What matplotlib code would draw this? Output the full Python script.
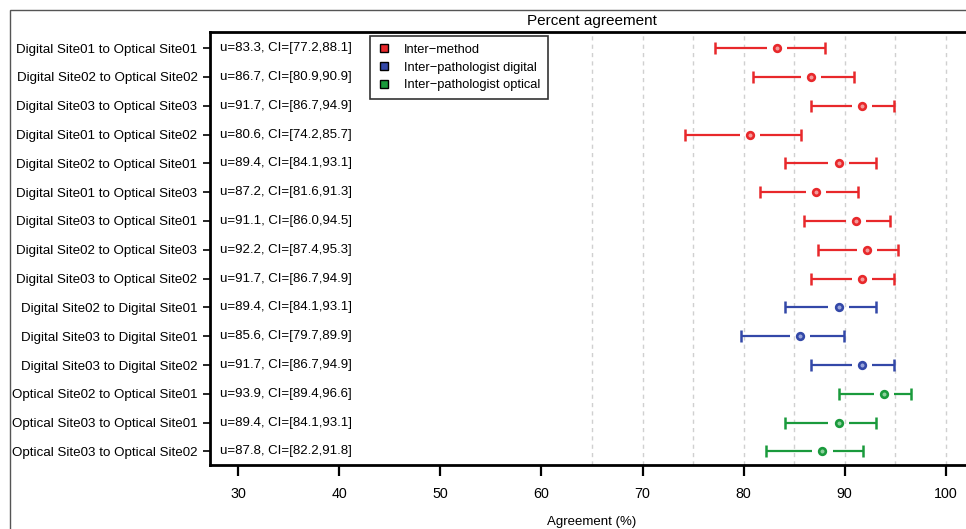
import matplotlib
matplotlib.use("Agg")
import matplotlib.pyplot as plt
from matplotlib.patches import Rectangle
from matplotlib.lines import Line2D

plt.rcParams['font.family'] = ['Liberation Sans', 'DejaVu Sans']

labels = [
    "Digital Site01 to Optical Site01",
    "Digital Site02 to Optical Site02",
    "Digital Site03 to Optical Site03",
    "Digital Site01 to Optical Site02",
    "Digital Site02 to Optical Site01",
    "Digital Site01 to Optical Site03",
    "Digital Site03 to Optical Site01",
    "Digital Site02 to Optical Site03",
    "Digital Site03 to Optical Site02",
    "Digital Site02 to Digital Site01",
    "Digital Site03 to Digital Site01",
    "Digital Site03 to Digital Site02",
    "Optical Site02 to Optical Site01",
    "Optical Site03 to Optical Site01",
    "Optical Site03 to Optical Site02",
]
means = [83.3, 86.7, 91.7, 80.6, 89.4, 87.2, 91.1, 92.2, 91.7, 89.4, 85.6, 91.7, 93.9, 89.4, 87.8]
lows = [77.2, 80.9, 86.7, 74.2, 84.1, 81.6, 86.0, 87.4, 86.7, 84.1, 79.7, 86.7, 89.4, 84.1, 82.2]
highs = [88.1, 90.9, 94.9, 85.7, 93.1, 91.3, 94.5, 95.3, 94.9, 93.1, 89.9, 94.9, 96.6, 93.1, 91.8]
groups = ["Inter\u2212method"] * 9 + ["Inter\u2212pathologist digital"] * 3 + ["Inter\u2212pathologist optical"] * 3
group_names = ["Inter\u2212method", "Inter\u2212pathologist digital", "Inter\u2212pathologist optical"]
group_colors = {"Inter\u2212method": "#e8282b",
                "Inter\u2212pathologist digital": "#3348a8",
                "Inter\u2212pathologist optical": "#1a9a3c"}
light_colors = {"Inter\u2212method": "#f49a9a",
                "Inter\u2212pathologist digital": "#98a4da",
                "Inter\u2212pathologist optical": "#8cd09c"}
xticks = [30, 40, 50, 60, 70, 80, 90, 100]
gridx = [65, 70, 75, 80, 85, 90, 95, 100]

W, H = 966, 529
fig = plt.figure(figsize=(W / 100, H / 100), dpi=100)
ax = fig.add_axes([210 / W, (H - 465) / H, 764 / W, 433 / H])

# outer frame (partially cropped)
fig.patches.append(Rectangle((10 / W, -0.2), 1.2, (H - 10) / H + 0.2, transform=fig.transFigure,
                             fill=False, edgecolor="#555555", linewidth=1.0, zorder=0))

n = len(labels)
ys = list(range(1, n + 1))
GAP = 1.0
for y, m, lo, hi, g in zip(ys, means, lows, highs, groups):
    c = group_colors[g]
    ax.plot([lo, m - GAP], [y, y], color=c, lw=1.6, solid_capstyle='butt', zorder=3)
    ax.plot([m + GAP, hi], [y, y], color=c, lw=1.6, solid_capstyle='butt', zorder=3)
    ax.plot([lo, hi], [y, y], linestyle='none', marker='|', ms=8, mew=1.8, color=c, zorder=3)
    ax.plot([m], [y], marker='o', ms=4.8, mfc=light_colors[g], mec=c, mew=1.9, zorder=4)
    ax.text(28.15, y, f"u={m:.1f}, CI=[{lo:.1f},{hi:.1f}]", va='center', ha='left', fontsize=9.5)

for gx in gridx:
    ax.axvline(gx, color="#d0d0d0", lw=1.0, ls=(0, (3, 3)), zorder=1)

ax.set_xlim(30 - 0.04 * 70, 100 + 0.04 * 70)
ax.set_ylim(15.47, 0.44)
ax.set_yticks(ys)
ax.set_yticklabels(labels, fontsize=9.6)
ax.set_xticks(xticks)
ax.set_xticklabels([str(t) for t in xticks], fontsize=10.3)
ax.tick_params(axis='y', length=5, width=1.2, pad=4)
ax.tick_params(axis='x', length=8, width=1.6, pad=8)
for s in ax.spines.values():
    s.set_linewidth(2.0)
ax.set_xlabel("Agreement (%)", fontsize=9.5, labelpad=11)
ax.set_title("Percent agreement", fontsize=11, pad=5)

handles = [Line2D([], [], linestyle='none', marker='s', ms=6, mfc=group_colors[g], mec='black', mew=1.0)
           for g in group_names]
leg = ax.legend(handles, group_names, loc='upper left', bbox_to_anchor=(160 / 764, 1 - 4 / 433),
                frameon=True, fancybox=False, edgecolor='black', fontsize=9.3,
                handlelength=1.0, handletextpad=1.0, borderpad=0.6, labelspacing=0.45,
                borderaxespad=0.0)
leg.get_frame().set_linewidth(1.2)

fig.savefig("out.png", dpi=100)
